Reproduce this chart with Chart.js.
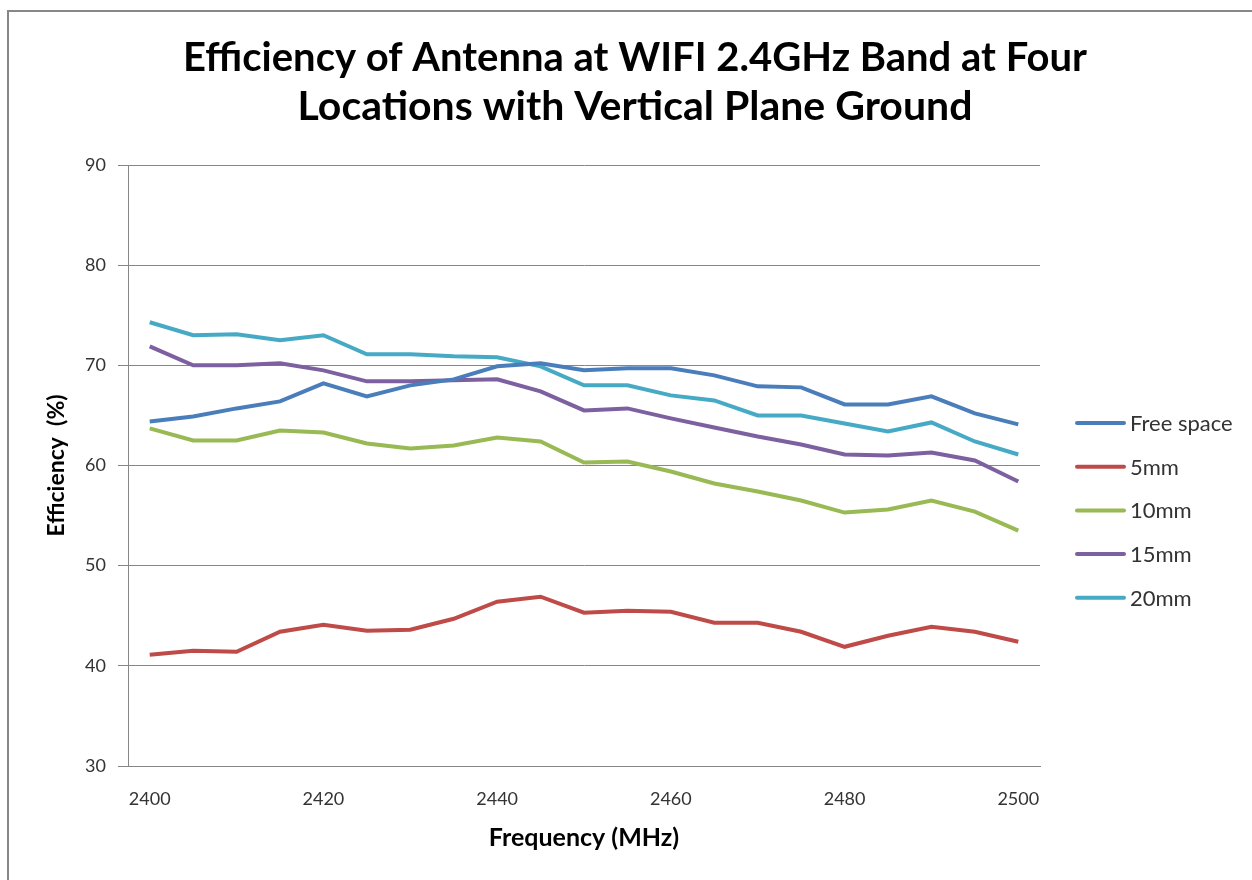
<!DOCTYPE html>
<html lang="en">
<head>
  <meta charset="UTF-8" />
  <title>Efficiency of Antenna at WIFI 2.4GHz Band</title>
  <script src="https://cdn.jsdelivr.net/npm/chart.js"></script>
  <style>
    html, body {
      margin: 0;
      padding: 0;
      background: #fff;
    }
    .wrap {
      width: 1252px;
      height: 880px;
    }
  </style>
</head>
<body>
  <div class="wrap">
    <canvas id="chart" width="1252" height="880"></canvas>
  </div>

  <script>
    // frequencies (MHz), every 5 MHz
    const freqs = [2400, 2405, 2410, 2415, 2420, 2425, 2430, 2435, 2440, 2445, 2450,
                   2455, 2460, 2465, 2470, 2475, 2480, 2485, 2490, 2495, 2500];

    // efficiency (%)
    const freeSpace = [64.4, 64.9, 65.7, 66.4, 68.2, 66.9, 68.0, 68.6, 69.9, 70.2, 69.5,
                       69.7, 69.7, 69.0, 67.9, 67.8, 66.1, 66.1, 66.9, 65.2, 64.1];
    const mm5  = [41.1, 41.5, 41.4, 43.4, 44.1, 43.5, 43.6, 44.7, 46.4, 46.9, 45.3,
                  45.5, 45.4, 44.3, 44.3, 43.4, 41.9, 43.0, 43.9, 43.4, 42.4];
    const mm10 = [63.7, 62.5, 62.5, 63.5, 63.3, 62.2, 61.7, 62.0, 62.8, 62.4, 60.3,
                  60.4, 59.4, 58.2, 57.4, 56.5, 55.3, 55.6, 56.5, 55.4, 53.5];
    const mm15 = [71.9, 70.0, 70.0, 70.2, 69.5, 68.4, 68.4, 68.5, 68.6, 67.4, 65.5,
                  65.7, 64.7, 63.8, 62.9, 62.1, 61.1, 61.0, 61.3, 60.5, 58.4];
    const mm20 = [74.3, 73.0, 73.1, 72.5, 73.0, 71.1, 71.1, 70.9, 70.8, 69.9, 68.0,
                  68.0, 67.0, 66.5, 65.0, 65.0, 64.2, 63.4, 64.3, 62.4, 61.1];

    const seriesNames = ['Free space', '5mm', '10mm', '15mm', '20mm'];
    const seriesColors = ['#4a7ebb', '#be4b48', '#98b954', '#7d60a0', '#46aac5'];
    const yTicks = [30, 40, 50, 60, 70, 80, 90];
    const titleLines = ['Efficiency of Antenna at WIFI 2.4GHz Band at Four',
                        'Locations with Vertical Plane Ground'];

    const FONT = 'Lato, "Open Sans", sans-serif';
    Chart.defaults.font.family = FONT;

    // outer frame + title (title is centred on the whole frame, not the plot)
    const framePlugin = {
      id: 'frame',
      beforeDraw(chart) {
        const ctx = chart.ctx;
        ctx.save();
        ctx.fillStyle = '#fff';
        ctx.fillRect(0, 0, chart.width, chart.height);
        ctx.strokeStyle = '#878787';
        ctx.lineWidth = 2;
        ctx.strokeRect(8, 11, chart.width + 20, chart.height + 20);

        ctx.fillStyle = '#000';
        ctx.font = 'bold 40px ' + FONT;
        ctx.textAlign = 'center';
        ctx.textBaseline = 'middle';
        ctx.fillText(titleLines[0], 635, 58);
        ctx.font = 'bold 41px ' + FONT;
        ctx.fillText(titleLines[1], 635, 107);
        ctx.restore();
      }
    };

    // legend on the right, drawn from the datasets
    const sideLegend = {
      id: 'sideLegend',
      afterDraw(chart) {
        const ctx = chart.ctx;
        ctx.save();
        ctx.font = '22px ' + FONT;
        ctx.textBaseline = 'middle';
        ctx.lineCap = 'round';
        chart.data.datasets.forEach((ds, i) => {
          const y = 423 + i * 43.7;
          ctx.strokeStyle = ds.borderColor;
          ctx.lineWidth = 4;
          ctx.beginPath();
          ctx.moveTo(1077, y);
          ctx.lineTo(1124, y);
          ctx.stroke();
          ctx.fillStyle = '#333';
          ctx.fillText(ds.label, 1130, y + 1);
        });
        ctx.restore();
      }
    };

    const datasets = [freeSpace, mm5, mm10, mm15, mm20].map((vals, i) => ({
      label: seriesNames[i],
      data: vals,
      borderColor: seriesColors[i],
      backgroundColor: seriesColors[i],
      borderWidth: 4,
      pointRadius: 0,
      tension: 0,
      fill: false
    }));

    new Chart(document.getElementById('chart'), {
      type: 'line',
      data: { labels: freqs, datasets },
      options: {
        responsive: false,
        animation: false,
        layout: { padding: { left: 38, right: 212, top: 165, bottom: 0 } },
        plugins: {
          legend: { display: false },
          tooltip: { enabled: false },
          title: { display: false }
        },
        scales: {
          x: {
            type: 'category',
            offset: true,
            grid: { display: false, drawTicks: false },
            border: { display: true, color: '#868686', width: 1 },
            ticks: {
              autoSkip: false,
              maxRotation: 0,
              padding: 22,
              color: '#333',
              font: { size: 18 },
              callback(val, idx) { return idx % 4 === 0 ? freqs[idx] : ''; }
            },
            title: {
              display: true,
              text: 'Frequency (MHz)',
              color: '#000',
              font: { size: 25, weight: 'bold' },
              padding: { top: 4, bottom: 27 }
            },
            afterFit(scale) { scale.height = 114; }
          },
          y: {
            min: 30,
            max: 90,
            afterBuildTicks(scale) { scale.ticks = yTicks.map(v => ({ value: v })); },
            grid: { color: '#868686', lineWidth: 1, tickLength: 10 },
            border: { display: true, color: '#868686', width: 1 },
            ticks: {
              padding: 12,
              color: '#333',
              font: { size: 18 }
            },
            title: {
              display: true,
              text: 'Efficiency  (%)',
              color: '#000',
              font: { size: 23, weight: 'bold' },
              padding: { top: 5, bottom: 0 }
            },
            afterFit(scale) { scale.width = 90; }
          }
        }
      },
      plugins: [framePlugin, sideLegend]
    });
  </script>
</body>
</html>
